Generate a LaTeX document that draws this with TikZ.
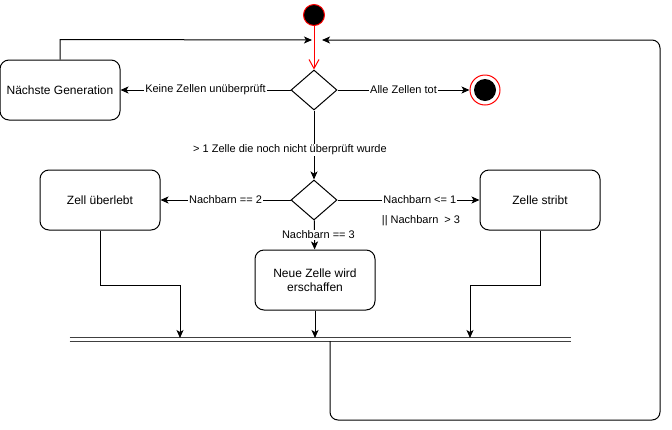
\documentclass[tikz,border=0pt]{standalone}
\usepackage{fontspec}
\setmainfont{Liberation Sans}
\usetikzlibrary{arrows.meta,shapes.geometric}
\begin{document}
\begin{tikzpicture}[x=1pt,y=-1pt,line width=1pt,
  box/.style={draw, rounded corners=9pt, minimum width=120pt, minimum height=60pt, align=center, font=\fontsize{12}{14}\selectfont, inner sep=0pt},
  dec/.style={draw, diamond, minimum width=46pt, minimum height=40pt, inner sep=0pt},
  lbl/.style={fill=white, font=\fontsize{11}{13}\selectfont, inner sep=1pt},
  arr/.style={-{Stealth[length=8pt,width=7pt,inset=2pt]}},
  barline/.style={draw=black!75, line width=0.9pt},
]
\useasboundingbox (0,0) rectangle (672,429);
% nodes
\node[circle, draw=red, fill=black, minimum size=21pt, inner sep=0pt] (start) at (314,15) {};
\node[dec] (d1) at (314,90) {};
\node[box] (nextgen) at (60,90) {Nächste Generation};
\node[circle, draw=red, fill=white, minimum size=30pt, inner sep=0pt] (endn) at (485,90) {};
\fill (endn.center) circle (11pt);
\node[dec] (d2) at (314,200) {};
\node[box] (survive) at (100,200) {Zell überlebt};
\node[box] (dies) at (540,200) {Zelle stribt};
\node[box] (newcell) at (315,280) {Neue Zelle wird\\erschaffen};
\node[minimum width=500pt, minimum height=3pt, inner sep=0pt] (bar) at (320,339.5) {};
\draw[barline] (bar.north west) -- (bar.north east);
\draw[barline] (bar.south west) -- (bar.south east);
\coordinate (ml) at (312,40);
\coordinate (mr) at (322,40);
\coordinate (b1) at (180,338);
\coordinate (b2) at (315,338);
\coordinate (b3) at (470,338);
\coordinate (lp) at (330,341);
% connectors
\draw[red, -{Straight Barb[length=9pt,width=10pt]}] (start) -- (d1);
\draw[arr] (nextgen.north) -- ++(0,-20) -- (ml);
\draw[arr, rounded corners=8pt] (lp) -- (330,420) -- (660,420) -- (660,40) -- (mr);
\draw[arr] (d1) -- node[lbl]{Keine Zellen unüberprüft} (nextgen);
\draw[arr] (d1) -- node[lbl]{Alle Zellen tot} (endn);
\draw[arr] (d1) -- node[lbl, pos=0.57, xshift=-24pt]{> 1 Zelle die noch nicht überprüft wurde} (d2);
\draw[arr] (d2) -- node[lbl]{Nachbarn == 2} (survive);
\draw[arr] (d2) -- node[lbl, pos=0.58]{Nachbarn <= 1} (dies);
\node[lbl] (l3) at (421,221) {|| Nachbarn\ \ > 3};
\draw[arr] (d2) -- node[lbl, xshift=4pt]{Nachbarn == 3} (newcell);
\draw[arr] (survive.south) -- ++(0,55) -| (b1);
\draw[arr] (dies.south) -- ++(0,55) -| (b3);
\draw[arr] (newcell) -- (b2);
\end{tikzpicture}
\end{document}
